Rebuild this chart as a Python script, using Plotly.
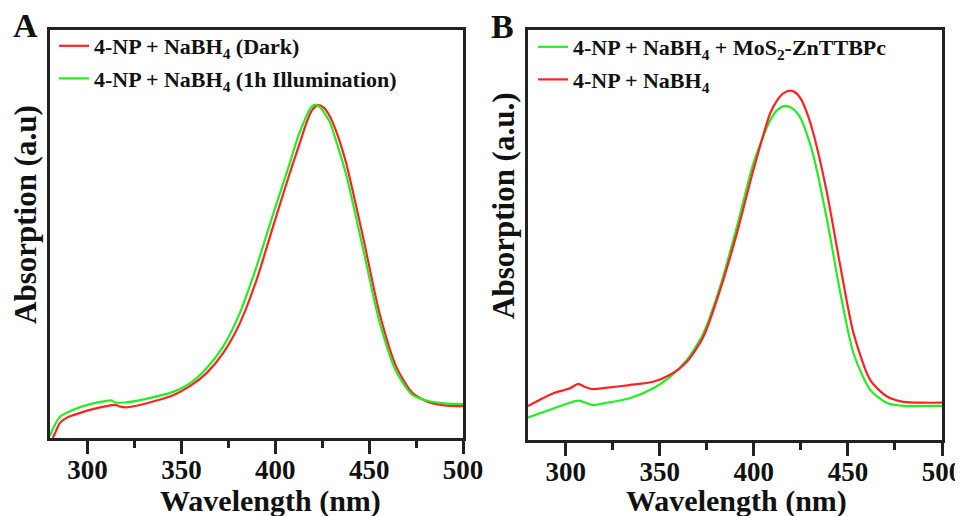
import plotly.graph_objects as go

W, H = 963, 516
OFF = 8  # default page body margin around the figure

# ---------------- data ----------------
wl_A_dark = [281.5, 283, 285.3, 289, 292.4, 301.3, 310.1, 314.6, 317.5, 320, 327.9, 345.6,
             354.5, 363.4, 372.2, 381.1, 390, 398.8, 407.7, 413, 416.5, 419.5, 422.7, 425.5,
             428.9, 433, 437.8, 446.7, 455.5, 464.4, 473.2, 482.1, 490, 500]
ab_A_dark = [0.0, 0.015, 0.037, 0.05, 0.056, 0.069, 0.078, 0.081, 0.077, 0.075, 0.081, 0.105,
             0.127, 0.159, 0.208, 0.281, 0.387, 0.518, 0.649, 0.722, 0.771, 0.803, 0.816, 0.811,
             0.790, 0.745, 0.673, 0.494, 0.306, 0.175, 0.110, 0.087, 0.080, 0.078]

wl_A_light = [280, 281.8, 285.3, 292.4, 301.3, 310.1, 312.5, 315, 319.9, 327.9, 345.6, 354.5,
              363.4, 372.2, 381.1, 390, 398.8, 407.7, 412, 416.5, 418.8, 421.2, 424, 428.9,
              432.5, 437.8, 446.7, 455.5, 464.4, 473.2, 482.1, 490, 500]
ab_A_light = [0.005, 0.025, 0.052, 0.069, 0.083, 0.091, 0.092, 0.087, 0.087, 0.093, 0.113, 0.134,
              0.171, 0.224, 0.306, 0.42, 0.548, 0.673, 0.737, 0.788, 0.809, 0.817, 0.810, 0.776,
              0.727, 0.645, 0.465, 0.285, 0.163, 0.105, 0.090, 0.085, 0.083]

wl_B_mos = [280, 293.5, 301, 306.7, 310, 314.5, 321, 334, 346.6, 355.5, 364.4, 373.2, 382.1,
            391, 399.8, 408.7, 412.7, 416.7, 420.7, 424.7, 428.2, 431.8, 438.9, 446, 453,
            461.9, 470.8, 479.6, 490, 500]
ab_B_mos = [0.055, 0.077, 0.089, 0.096, 0.092, 0.085, 0.090, 0.102, 0.126, 0.154, 0.195, 0.260,
            0.374, 0.520, 0.675, 0.780, 0.806, 0.815, 0.808, 0.786, 0.746, 0.691, 0.537, 0.358,
            0.211, 0.122, 0.090, 0.083, 0.083, 0.083]

wl_B_ref = [280, 293.5, 302.3, 306.7, 310, 314.6, 321, 334, 346.5, 355.5, 364.4, 373.2, 382.1,
            391, 399.8, 408.7, 412.3, 415.8, 419.4, 422.3, 425, 428.3, 431.8, 438.9, 446, 453,
            461.9, 470.8, 479.6, 490, 500]
ab_B_ref = [0.083, 0.114, 0.126, 0.137, 0.130, 0.124, 0.127, 0.134, 0.142, 0.159, 0.191, 0.252,
            0.366, 0.504, 0.659, 0.797, 0.828, 0.846, 0.852, 0.847, 0.832, 0.797, 0.745, 0.602,
            0.423, 0.260, 0.146, 0.106, 0.093, 0.091, 0.091]

x_ticks = [300, 350, 400, 450, 500]
x_tick_text = ["300", "350", "400", "450", "500"]

RED = "#ff2222"
GREEN = "#22ee22"
FONT = "Liberation Serif"
FRAME = "#222222"
TXT = "#111111"


def px(x):
    return (x - OFF) / W


def py(y):
    return 1 - (y - OFF) / H


fig = go.Figure()

fig.add_trace(go.Scatter(x=wl_A_dark, y=ab_A_dark, mode="lines",
                         line=dict(color=RED, width=2.2, shape="spline", smoothing=0.7),
                         name="4-NP + NaBH<sub>4</sub> (Dark)", xaxis="x", yaxis="y",
                         legend="legend", legendgroup="a1"))
fig.add_trace(go.Scatter(x=wl_A_light, y=ab_A_light, mode="lines",
                         line=dict(color=GREEN, width=2.2, shape="spline", smoothing=0.7),
                         name="4-NP + NaBH<sub>4</sub> (1h Illumination)", xaxis="x", yaxis="y",
                         legend="legend", legendgroup="a2"))
fig.add_trace(go.Scatter(x=wl_B_mos, y=ab_B_mos, mode="lines",
                         line=dict(color=GREEN, width=2.2, shape="spline", smoothing=0.7),
                         name="4-NP + NaBH<sub>4</sub> + MoS<sub>2</sub>-ZnTTBPc",
                         xaxis="x2", yaxis="y2", legend="legend2", legendgroup="b1"))
fig.add_trace(go.Scatter(x=wl_B_ref, y=ab_B_ref, mode="lines",
                         line=dict(color=RED, width=2.2, shape="spline", smoothing=0.7),
                         name="4-NP + NaBH<sub>4</sub>",
                         xaxis="x2", yaxis="y2", legend="legend2", legendgroup="b2"))

xcommon = dict(range=[280, 500], tickmode="array", tickvals=x_ticks, ticktext=x_tick_text,
               ticks="outside", ticklen=13, tickwidth=2.5, tickcolor=FRAME,
               showline=True, linewidth=2.5, linecolor=FRAME, mirror=True,
               showgrid=False, zeroline=False, automargin=False, ticklabelstandoff=-7,
               tickfont=dict(family=FONT, size=27, color=TXT, weight="bold"),
               minor=dict(tickvals=[325, 375, 425, 475], ticks="outside", ticklen=7,
                          tickwidth=2.5, tickcolor=FRAME))
ycommon = dict(range=[0, 1], showticklabels=False, ticks="", showline=True, linewidth=2.5,
               linecolor=FRAME, mirror=True, showgrid=False, zeroline=False, automargin=False)

legfont = dict(family=FONT, size=22, color=TXT, weight="bold")

fig.update_layout(
    template="none",
    width=W, height=H,
    margin=dict(l=0, r=0, t=0, b=0, autoexpand=False),
    paper_bgcolor="white", plot_bgcolor="white",
    xaxis=dict(domain=[px(50), px(463)], anchor="y", **xcommon),
    yaxis=dict(domain=[py(438), py(30)], anchor="x", **ycommon),
    xaxis2=dict(domain=[px(528), px(942)], anchor="y2", **xcommon),
    yaxis2=dict(domain=[py(440), py(30)], anchor="x2", **ycommon),
    legend=dict(x=px(54), y=py(25), xanchor="left", yanchor="top", bgcolor="rgba(0,0,0,0)",
                font=legfont, tracegroupgap=1, itemwidth=30),
    legend2=dict(x=px(533), y=py(26), xanchor="left", yanchor="top", bgcolor="rgba(0,0,0,0)",
                 font=legfont, tracegroupgap=1, itemwidth=30),
    showlegend=True,
)


def note(text, x, y, size, angle=0):
    return dict(text=text, x=px(x), y=py(y), xref="paper", yref="paper",
                xanchor="center", yanchor="middle", showarrow=False, textangle=angle,
                font=dict(family=FONT, size=size, color=TXT))


ann = [
    note("<b>A</b>", 25, 26, 34),
    note("<b>B</b>", 502, 27, 34),
    note("<b>Absorption (a.u)</b>", 25, 215, 31, -90),
    note("<b>Absorption (a.u.)</b>", 503, 205, 31, -90),
    note("<b>Wavelength (nm)</b>", 270, 501, 30),
    note("<b>Wavelength (nm)</b>", 736, 501, 30),
]
fig.update_layout(annotations=ann)

fig.write_html("out.html")
